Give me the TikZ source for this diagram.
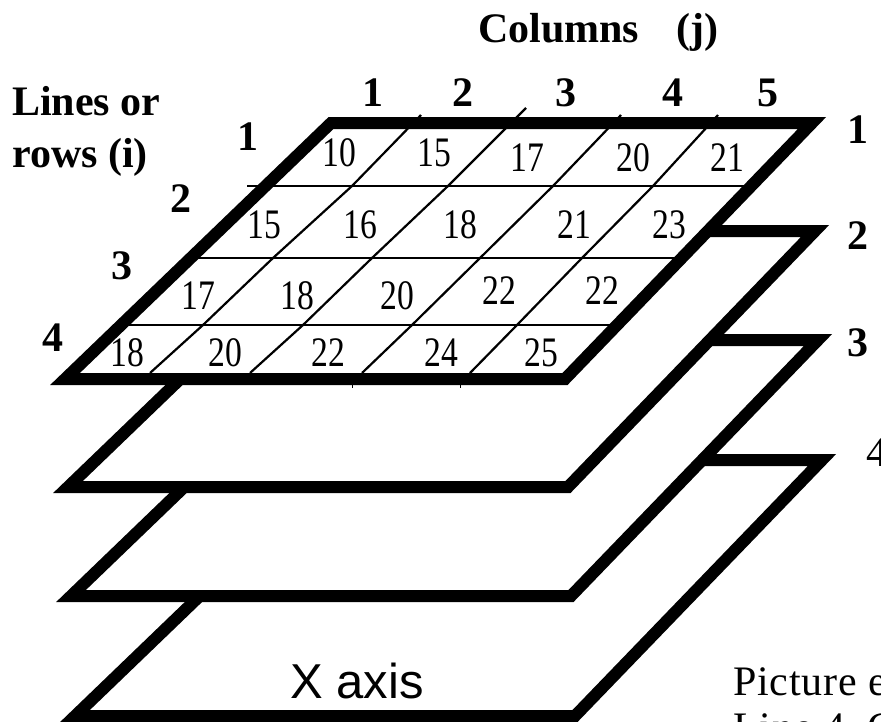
\documentclass[tikz,border=0pt]{standalone}
\usepackage{fontspec}
\setmainfont{Liberation Serif}
\newfontfamily\cellfont{Liberation Serif}[FakeStretch=0.8]
\newfontfamily\notefont{Liberation Serif}[LetterSpace=2]
\newfontfamily\axisfont{Liberation Sans}

\begin{document}
\begin{tikzpicture}[x=1pt,y=-1pt,
  layer/.style={line width=12pt, fill=white, line join=miter, miter limit=10},
  gridline/.style={line width=2.2pt},
  cell/.style={font=\cellfont\fontsize{42}{42}\selectfont, inner sep=0pt},
  lbl/.style={font=\bfseries\fontsize{42}{50}\selectfont, inner sep=0pt}]

\useasboundingbox (0,0) rectangle (881,721);
\clip (0,0) rectangle (881,721);

% --- Define layer shape ---
\def\layer{(331,123) -- (812,123) -- (565,379) -- (65,379) -- cycle}

% --- Stack of layers (back to front) ---
\foreach \dx/\dy in {10/337, 6/217, 3/108, 0/0} {
  \begin{scope}[shift={(\dx,\dy)}]
  \draw[layer] \layer;
  \end{scope}
}

% --- Grid of the top layer: rows ---
\draw[gridline] (247,186) -- (745,186);
\draw[gridline] (198,258) -- (675,258);
\draw[gridline] (129,325) -- (610,325);

% --- Grid of the top layer: columns ---
\draw[gridline] (421,115) -- (352,186) -- (273,258) -- (203,325) -- (150,373);
\draw[gridline] (526,108) -- (448,186) -- (372,258) -- (303,325) -- (250,373);
\draw[gridline] (621,115) -- (553,186) -- (480,258) -- (412,325) -- (362,373);
\draw[gridline] (718,115) -- (653,186) -- (582,258) -- (517,325) -- (470,373);
\draw[line width=1pt] (352,384) -- (352,388);
\draw[line width=1pt] (460,384) -- (460,388);

% --- Cell values ---
\foreach \x/\y/\v [count=\n] in {339/153/10, 434/153/15, 527/158/17, 633/158/20, 727/158/21,
  264/225/15, 360/225/16, 460/225/18, 574/225/21, 669/225/23,
  198/296/17, 297/296/18, 397/296/20, 499/291/22, 602/291/22,
  127/353/18, 225/353/20, 328/353/22, 441/353/24, 541/353/25}
  \node[cell] (cell\n) at (\x,\y) {\v};

% --- Labels ---
\node[lbl, anchor=base west] (colname) at (478,42) {Columns};
\node[lbl, anchor=base west] (colj) at (676,42) {(j)};
\node[lbl, anchor=base west] (linesor) at (12,115) {Lines or};
\node[lbl, anchor=base west] (rowsi) at (12,167) {rows (i)};

\foreach \x [count=\j] in {373,463,566,673,768}
  \node[lbl] (col\j) at (\x,93) {\j};
\foreach \x/\y [count=\i] in {248/137, 181/199, 122/266, 53/338}
  \node[lbl] (row\i) at (\x,\y) {\i};
\foreach \y [count=\k] in {130, 236, 343}
  \node[lbl] (layer\k) at (858,\y) {\k};
\node[lbl, font=\fontsize{42}{50}\selectfont] (layer4) at (877,453) {4};

\node[font=\axisfont\fontsize{49}{49}\selectfont, anchor=base west, inner sep=0pt] (xaxis) at (290,698) {X axis};
\node[font=\notefont\fontsize{42}{42}\selectfont, anchor=base west, inner sep=0pt] (picture) at (733,695) {Picture e};
\node[font=\notefont\fontsize{42}{42}\selectfont, anchor=base west, inner sep=0pt] (linefour) at (733,741) {Line 4, C};

\end{tikzpicture}
\end{document}
